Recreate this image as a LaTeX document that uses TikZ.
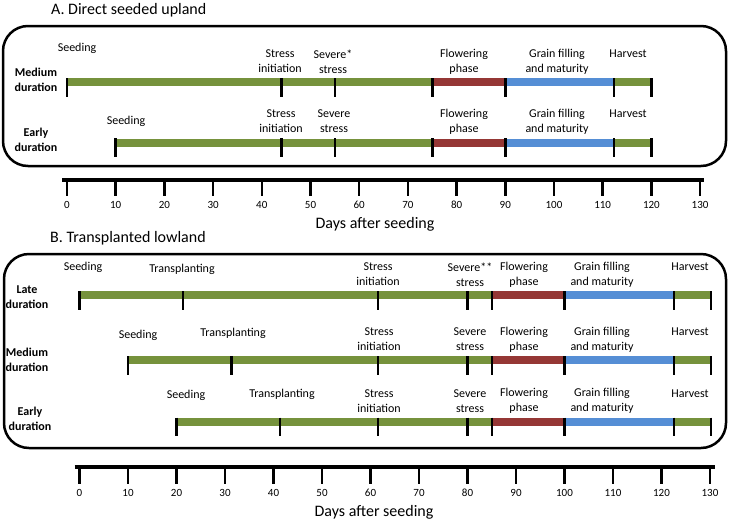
\documentclass[tikz,border=0pt]{standalone}
\usepackage{fontspec}
\setmainfont{Carlito}
\usetikzlibrary{positioning}
\definecolor{phasegreen}{RGB}{118,146,60}
\definecolor{phasered}{RGB}{149,55,53}
\definecolor{phaseblue}{RGB}{85,142,213}

\begin{document}
\begin{tikzpicture}[
  x=1pt, y=-1pt,
  lbl/.style={font=\fontsize{12}{15}\selectfont, align=center, inner sep=0pt},
  dur/.style={font=\bfseries\fontsize{12}{15}\selectfont, align=center, inner sep=0pt},
  ttl/.style={font=\fontsize{16}{19}\selectfont, anchor=west, inner sep=0pt},
  num/.style={font=\fontsize{11}{13}\selectfont, inner sep=0pt},
  panel/.style={draw, line width=2.5pt, rounded corners=25pt},
  seg/.style={line width=8pt},
  tickmark/.style={line width=2.5pt},
  axisbar/.style={line width=4pt},
  axistick/.style={line width=2.5pt}
]
\useasboundingbox (0,0) rectangle (729,520);

% A. Direct seeded upland
\node[ttl] (titleA) at (51,10) {A. Direct seeded upland};
\draw[panel] (3,26) rectangle (726,166);

\node[dur] (aMed) at (36,79.5) {Medium\\duration};
\node[lbl] (aMedSeed) at (77,48) {Seeding};
\node[lbl] (aMedInit) at (280,61.5) {Stress\\initiation};
\node[lbl] (aMedSev) at (333,61.5) {Severe*\\stress};
\node[lbl] (aMedFlow) at (464,61.5) {Flowering\\phase};
\node[lbl] (aMedGrain) at (557,61.5) {Grain filling\\and maturity};
\node[lbl] (aMedHarv) at (628,54) {Harvest};

\node[dur] (aEarly) at (36,140) {Early\\duration};
\node[lbl] (aEarlySeed) at (126,121) {Seeding};
\node[lbl] (aEarlyInit) at (281,121.5) {Stress\\initiation};
\node[lbl] (aEarlySev) at (334,121.5) {Severe\\stress};
\node[lbl] (aEarlyFlow) at (464,121.5) {Flowering\\phase};
\node[lbl] (aEarlyGrain) at (557,121.5) {Grain filling\\and maturity};
\node[lbl] (aEarlyHarv) at (628,114) {Harvest};

\begin{scope}[x=4.87pt, xshift=67pt]
  % medium duration
  \draw[seg, phasegreen] (0,82) -- (75,82);
  \draw[seg, phasered] (75,82) -- (90,82);
  \draw[seg, phaseblue] (90,82) -- (112.3,82);
  \draw[seg, phasegreen] (112.3,82) -- (120,82);
  \foreach \d in {0,44,55,75,90,112.3,120}
    \draw[tickmark] (\d,78) -- (\d,97);
  % early duration
  \draw[seg, phasegreen] (10,142.5) -- (75,142.5);
  \draw[seg, phasered] (75,142.5) -- (90,142.5);
  \draw[seg, phaseblue] (90,142.5) -- (112.3,142.5);
  \draw[seg, phasegreen] (112.3,142.5) -- (120,142.5);
  \foreach \d in {10,44,55,75,90,112.3,120}
    \draw[tickmark] (\d,138) -- (\d,157);
  % axis
  \draw[axisbar] (-1,179.5) -- (130.8,179.5);
  \foreach \d in {0,10,...,130} {
    \draw[axistick] (\d,179.5) -- (\d,196);
    \node[num] (aTick\d) at (\d,205) {\d};
  }
\end{scope}
\node[lbl, font=\fontsize{16}{19}\selectfont] (aDays) at (375,224) {Days after seeding};

% B. Transplanted lowland
\node[ttl] (titleB) at (50,238) {B. Transplanted lowland};
\draw[panel] (4,254) rectangle (726,448);

\node[dur] (bLate) at (27,297.5) {Late\\duration};
\node[lbl] (bLateSeed) at (83,267) {Seeding};
\node[lbl] (bLateTrans) at (182,269) {Transplanting};
\node[lbl] (bLateInit) at (378,274.5) {Stress\\initiation};
\node[lbl] (bLateSev) at (470,274.5) {Severe**\\stress};
\node[lbl] (bLateFlow) at (524,274.5) {Flowering\\phase};
\node[lbl] (bLateGrain) at (602,274.5) {Grain filling\\and maturity};
\node[lbl] (bLateHarv) at (690,267) {Harvest};

\node[dur] (bMed) at (27,359.5) {Medium\\duration};
\node[lbl] (bMedSeed) at (138,335) {Seeding};
\node[lbl] (bMedTrans) at (233,333) {Transplanting};
\node[lbl] (bMedInit) at (379,339.5) {Stress\\initiation};
\node[lbl] (bMedSev) at (470,339.5) {Severe\\stress};
\node[lbl] (bMedFlow) at (524,339.5) {Flowering\\phase};
\node[lbl] (bMedGrain) at (602,339.5) {Grain filling\\and maturity};
\node[lbl] (bMedHarv) at (690,332) {Harvest};

\node[dur] (bEarly) at (30,419) {Early\\duration};
\node[lbl] (bEarlySeed) at (186,395) {Seeding};
\node[lbl] (bEarlyTrans) at (282,394) {Transplanting};
\node[lbl] (bEarlyInit) at (379,401) {Stress\\initiation};
\node[lbl] (bEarlySev) at (470,401) {Severe\\stress};
\node[lbl] (bEarlyFlow) at (524,401) {Flowering\\phase};
\node[lbl] (bEarlyGrain) at (602,401) {Grain filling\\and maturity};
\node[lbl] (bEarlyHarv) at (690,394) {Harvest};

\begin{scope}[x=4.85pt, xshift=79.5pt]
  % late, medium and early duration rows
  \foreach \s/\y in {0/295, 10/360, 20/421.5} {
    \draw[seg, phasegreen] (\s,\y) -- (85,\y);
    \draw[seg, phasered] (85,\y) -- (100,\y);
    \draw[seg, phaseblue] (100,\y) -- (122.6,\y);
    \draw[seg, phasegreen] (122.6,\y) -- (130.2,\y);
    \pgfmathsetmacro{\t}{\s+21.3}
    \foreach \d in {\s,\t,61.5,80,85,100,122.6,130.2}
      \draw[tickmark] (\d,\y-4) -- (\d,\y+14.5);
  }
  % axis
  \draw[axisbar] (-1,467) -- (131,467);
  \foreach \d in {0,10,...,130} {
    \draw[axistick] (\d,467) -- (\d,484);
    \node[num] (bTick\d) at (\d,493) {\d};
  }
\end{scope}
\node[lbl, font=\fontsize{16}{19}\selectfont] (bDays) at (374,512) {Days after seeding};
\end{tikzpicture}
\end{document}
